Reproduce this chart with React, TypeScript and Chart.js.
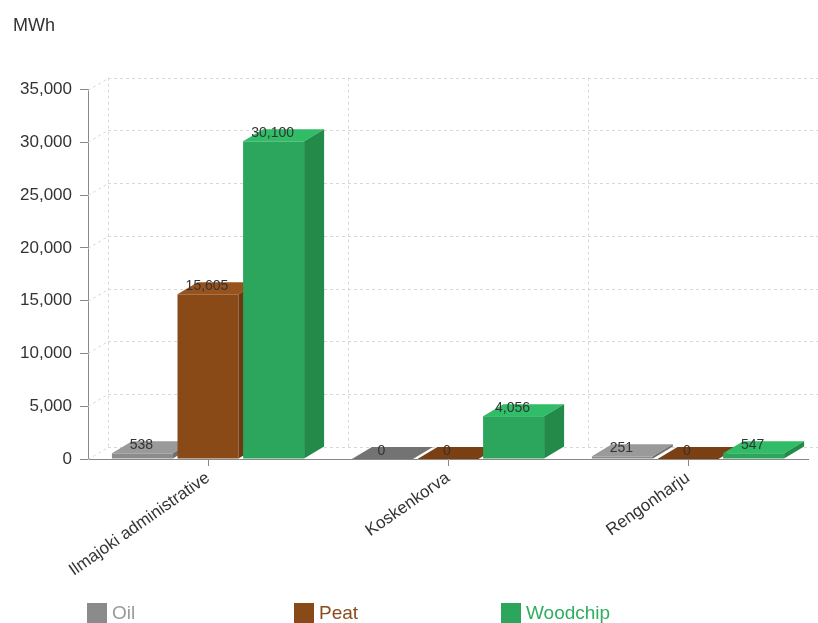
import React, { useEffect, useRef } from 'react';
import { Chart, registerables } from 'chart.js';

Chart.register(...registerables);

const categories = ['Ilmajoki administrative', 'Koskenkorva', 'Rengonharju'];
const seriesNames = ['Oil', 'Peat', 'Woodchip'];
const oilValues = [538, 0, 251];
const peatValues = [15605, 0, 0];
const woodchipValues = [30100, 4056, 547];
const yMax = 35000;
const yStep = 5000;

const FRONT = ['#8b8b8b', '#8a4a18', '#2ba65c'];
const TOP = ['#9a9a9a', '#98531d', '#31bd68'];
const ZERO_TOP = ['#737373', '#7a3f12', '#26994f'];
const SIDE = ['#6f6f6f', '#6c3911', '#228b4a'];
const LEGEND_TEXT = ['#9a9a9a', '#8b4a1c', '#2fae60'];
const FONT = 'Arial, "Liberation Sans", sans-serif';
const DX = 20;
const DY = 12;

const fmt = (v: number) => v.toLocaleString('en-US');

const threeDPlugin = {
  id: 'threeD',
  beforeDatasetsDraw(chart: any) {
    const ctx = chart.ctx as CanvasRenderingContext2D;
    const { left, right, top, bottom } = chart.chartArea;
    const ys = chart.scales.y;
    const line = (x1: number, y1: number, x2: number, y2: number) => {
      ctx.beginPath();
      ctx.moveTo(x1, y1);
      ctx.lineTo(x2, y2);
      ctx.stroke();
    };
    ctx.save();
    ctx.strokeStyle = '#d8d8d8';
    ctx.lineWidth = 1;
    ctx.setLineDash([3, 3]);
    ys.ticks.forEach((t: any) => {
      const py = Math.round(ys.getPixelForValue(t.value)) + 0.5;
      line(left + DX, py - DY, right + DX, py - DY);
      line(left, py, left + DX, py - DY);
    });
    const n = categories.length;
    const cw = (right - left) / n;
    for (let i = 0; i <= n; i++) {
      const px = Math.round(left + i * cw + DX) + 0.5;
      line(px, top - DY, px, bottom - DY);
    }
    ctx.setLineDash([]);

    const nd = chart.data.datasets.length;
    const labels: { x: number; y: number; t: string }[] = [];
    for (let i = 0; i < n; i++) {
      for (let d = 0; d < nd; d++) {
        const el = chart.getDatasetMeta(d).data[i];
        const p = el.getProps(['x', 'y', 'base', 'width'], true);
        const l = p.x - p.width / 2;
        const r = p.x + p.width / 2;
        const ty = p.y;
        const base = p.base;
        const flat = base - ty < 0.5;
        // front
        ctx.fillStyle = FRONT[d];
        ctx.fillRect(l, ty, p.width, base - ty);
        // top
        ctx.fillStyle = flat ? ZERO_TOP[d] : TOP[d];
        ctx.beginPath();
        ctx.moveTo(l, ty);
        ctx.lineTo(l + DX, ty - DY);
        ctx.lineTo(r + DX, ty - DY);
        ctx.lineTo(r, ty);
        ctx.closePath();
        ctx.fill();
        // side
        if (!flat) {
          ctx.fillStyle = SIDE[d];
          ctx.beginPath();
          ctx.moveTo(r, ty);
          ctx.lineTo(r + DX, ty - DY);
          ctx.lineTo(r + DX, base - DY);
          ctx.lineTo(r, base);
          ctx.closePath();
          ctx.fill();
        }
        labels.push({ x: p.x - 1, y: ty - 4, t: fmt(chart.data.datasets[d].data[i]) });
      }
    }
    ctx.font = `14px ${FONT}`;
    ctx.fillStyle = '#333';
    ctx.textAlign = 'center';
    ctx.textBaseline = 'alphabetic';
    labels.forEach((lb) => ctx.fillText(lb.t, lb.x, lb.y));
    ctx.restore();
    return false;
  },
};

const legendPlugin = {
  id: 'customLegend',
  afterDraw(chart: any) {
    const ctx = chart.ctx as CanvasRenderingContext2D;
    ctx.save();
    ctx.font = `19px ${FONT}`;
    ctx.textBaseline = 'middle';
    ctx.textAlign = 'left';
    chart.data.datasets.forEach((ds: any, d: number) => {
      const bx = 87 + d * 207;
      const by = 603;
      ctx.fillStyle = FRONT[d];
      ctx.fillRect(bx, by, 20, 20);
      ctx.fillStyle = LEGEND_TEXT[d];
      ctx.fillText(ds.label, bx + 25, by + 11);
    });
    ctx.restore();
  },
};

export default function App() {
  const ref = useRef<HTMLCanvasElement | null>(null);
  useEffect(() => {
    if (!ref.current) return;
    Chart.defaults.font.family = FONT;
    const chart = new Chart(ref.current, {
      type: 'bar',
      data: {
        labels: categories,
        datasets: [
          { label: seriesNames[0], data: oilValues, backgroundColor: FRONT[0] },
          { label: seriesNames[1], data: peatValues, backgroundColor: FRONT[1] },
          { label: seriesNames[2], data: woodchipValues, backgroundColor: FRONT[2] },
        ],
      },
      options: {
        responsive: false,
        animation: false,
        layout: { padding: { left: 13, right: 10, top: 0, bottom: 0 } },
        datasets: { bar: { categoryPercentage: 0.82, barPercentage: 0.93 } },
        plugins: {
          legend: { display: false },
          tooltip: { enabled: false },
          title: {
            display: true,
            text: 'MWh',
            align: 'start',
            color: '#333',
            font: { size: 18, weight: 'normal' },
            padding: { top: 15, bottom: 53 },
          },
        },
        scales: {
          x: {
            afterFit: (s: any) => { s.height = 164; },
            grid: { display: true, drawOnChartArea: false, drawTicks: true, tickLength: 7, offset: false, color: '#888', tickColor: '#888' },
            border: { display: true, color: '#888' },
            ticks: { color: '#333', font: { size: 17 }, minRotation: 35, maxRotation: 35, autoSkip: false, padding: 2 },
          },
          y: {
            min: 0,
            max: yMax,
            afterFit: (s: any) => { s.width = 75; },
            grid: { display: true, drawOnChartArea: false, drawTicks: true, tickLength: 8, color: '#888', tickColor: '#888' },
            border: { display: true, color: '#888' },
            ticks: { stepSize: yStep, color: '#333', font: { size: 17 }, padding: 8, callback: (v: any) => fmt(Number(v)) },
          },
        },
      },
      plugins: [threeDPlugin, legendPlugin],
    } as any);
    return () => chart.destroy();
  }, []);
  return (
    <div style={{ position: 'absolute', left: 0, top: 0, width: 818, height: 623 }}>
      <canvas ref={ref} width={818} height={623} />
    </div>
  );
}
